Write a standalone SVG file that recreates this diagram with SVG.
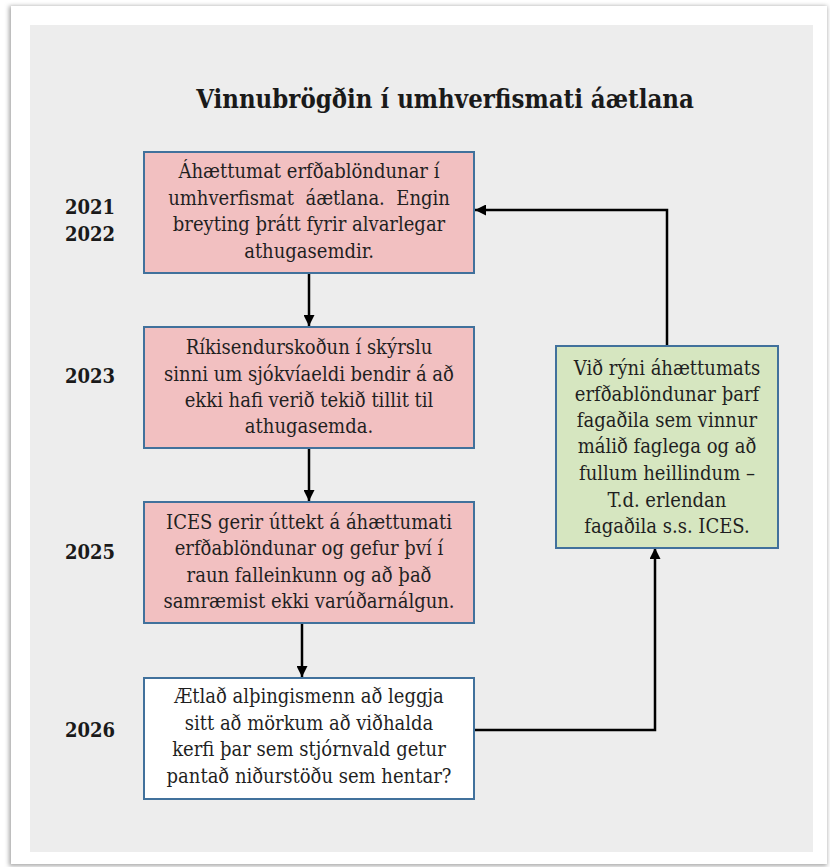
<svg xmlns="http://www.w3.org/2000/svg" width="830" height="867" viewBox="0 0 830 867">
  <defs>
    <filter id="shadow" x="-5%" y="-5%" width="110%" height="110%">
      <feGaussianBlur stdDeviation="2"/>
    </filter>
    <marker id="arrow" viewBox="0 0 10 10" refX="10" refY="5" markerWidth="4.4" markerHeight="4.4" orient="auto" markerUnits="strokeWidth">
      <path d="M0,0 L10,5 L0,10 z" fill="#000"/>
    </marker>
    <style>
      .box { stroke: #41719c; stroke-width: 2; }
      .pink { fill: #f2c0c1; }
      .green { fill: #d6e6c0; }
      .white { fill: #ffffff; }
      .txt { font-family: "DejaVu Serif Condensed", "DejaVu Serif", serif; font-stretch: condensed; font-size: 20px; fill: #1f1f1f; text-anchor: middle; }
      .year { font-family: "DejaVu Serif Condensed", "DejaVu Serif", serif; font-stretch: condensed; font-weight: bold; font-size: 20px; fill: #1a1a1a; }
      .title { font-family: "DejaVu Serif Condensed", "DejaVu Serif", serif; font-stretch: condensed; font-weight: bold; font-size: 25.5px; fill: #1a1a1a; text-anchor: middle; }
      .conn { fill: none; stroke: #000; stroke-width: 2.5; }
    </style>
  </defs>

  <rect x="0" y="0" width="830" height="867" fill="#ffffff"/>
  <!-- card -->
  <rect x="9" y="6" width="818" height="860" fill="#a8a8a8" filter="url(#shadow)"/>
  <rect x="11" y="6" width="816" height="858" fill="#ffffff"/>
  <rect x="30" y="25" width="783" height="827" fill="#ededed"/>

  <text class="title" x="445" y="108">Vinnubrögðin í umhverfismati áætlana</text>

  <g id="years">
    <text class="year" x="65" y="214">2021</text>
    <text class="year" x="65" y="241">2022</text>
    <text class="year" x="65" y="383">2023</text>
    <text class="year" x="65" y="559">2025</text>
    <text class="year" x="65" y="737">2026</text>
  </g>

  <g id="connectors">
    <line class="conn" x1="309" y1="273" x2="309" y2="326" marker-end="url(#arrow)"/>
    <line class="conn" x1="309" y1="448" x2="309" y2="501" marker-end="url(#arrow)"/>
    <line class="conn" x1="302" y1="623" x2="302" y2="677" marker-end="url(#arrow)"/>
    <polyline class="conn" points="474,730 655,730 655,548" marker-end="url(#arrow)"/>
    <polyline class="conn" points="667,346 667,210 475,210" marker-end="url(#arrow)"/>
  </g>

  <g id="box1">
    <rect class="box pink" x="144" y="152" width="330" height="121"/>
    <text class="txt" x="309" y="178">Áhættumat erfðablöndunar í</text>
    <text class="txt" x="309" y="204.5" xml:space="preserve">umhverfismat  áætlana.  Engin</text>
    <text class="txt" x="309" y="231">breyting þrátt fyrir alvarlegar</text>
    <text class="txt" x="309" y="257.5">athugasemdir.</text>
  </g>

  <g id="box2">
    <rect class="box pink" x="144" y="327" width="330" height="121"/>
    <text class="txt" x="309" y="354">Ríkisendurskoðun í skýrslu</text>
    <text class="txt" x="309" y="381">sinni um sjókvíaeldi bendir á að</text>
    <text class="txt" x="309" y="407">ekki hafi verið tekið tillit til</text>
    <text class="txt" x="309" y="433">athugasemda.</text>
  </g>

  <g id="box3">
    <rect class="box pink" x="144" y="502" width="330" height="121"/>
    <text class="txt" x="309" y="529">ICES gerir úttekt á áhættumati</text>
    <text class="txt" x="309" y="555">erfðablöndunar og gefur því í</text>
    <text class="txt" x="309" y="582">raun falleinkunn og að það</text>
    <text class="txt" x="309" y="608">samræmist ekki varúðarnálgun.</text>
  </g>

  <g id="box4">
    <rect class="box white" x="144" y="678" width="330" height="121"/>
    <text class="txt" x="309" y="703">Ætlað alþingismenn að leggja</text>
    <text class="txt" x="309" y="730">sitt að mörkum að viðhalda</text>
    <text class="txt" x="309" y="756">kerfi þar sem stjórnvald getur</text>
    <text class="txt" x="309" y="783">pantað niðurstöðu sem hentar?</text>
  </g>

  <g id="box5">
    <rect class="box green" x="556" y="346" width="222" height="202"/>
    <text class="txt" x="667" y="375">Við rýni áhættumats</text>
    <text class="txt" x="667" y="401">erfðablöndunar þarf</text>
    <text class="txt" x="667" y="427">fagaðila sem vinnur</text>
    <text class="txt" x="667" y="453">málið faglega og að</text>
    <text class="txt" x="667" y="480">fullum heillindum –</text>
    <text class="txt" x="667" y="507">T.d. erlendan</text>
    <text class="txt" x="667" y="533">fagaðila s.s. ICES.</text>
  </g>
</svg>
